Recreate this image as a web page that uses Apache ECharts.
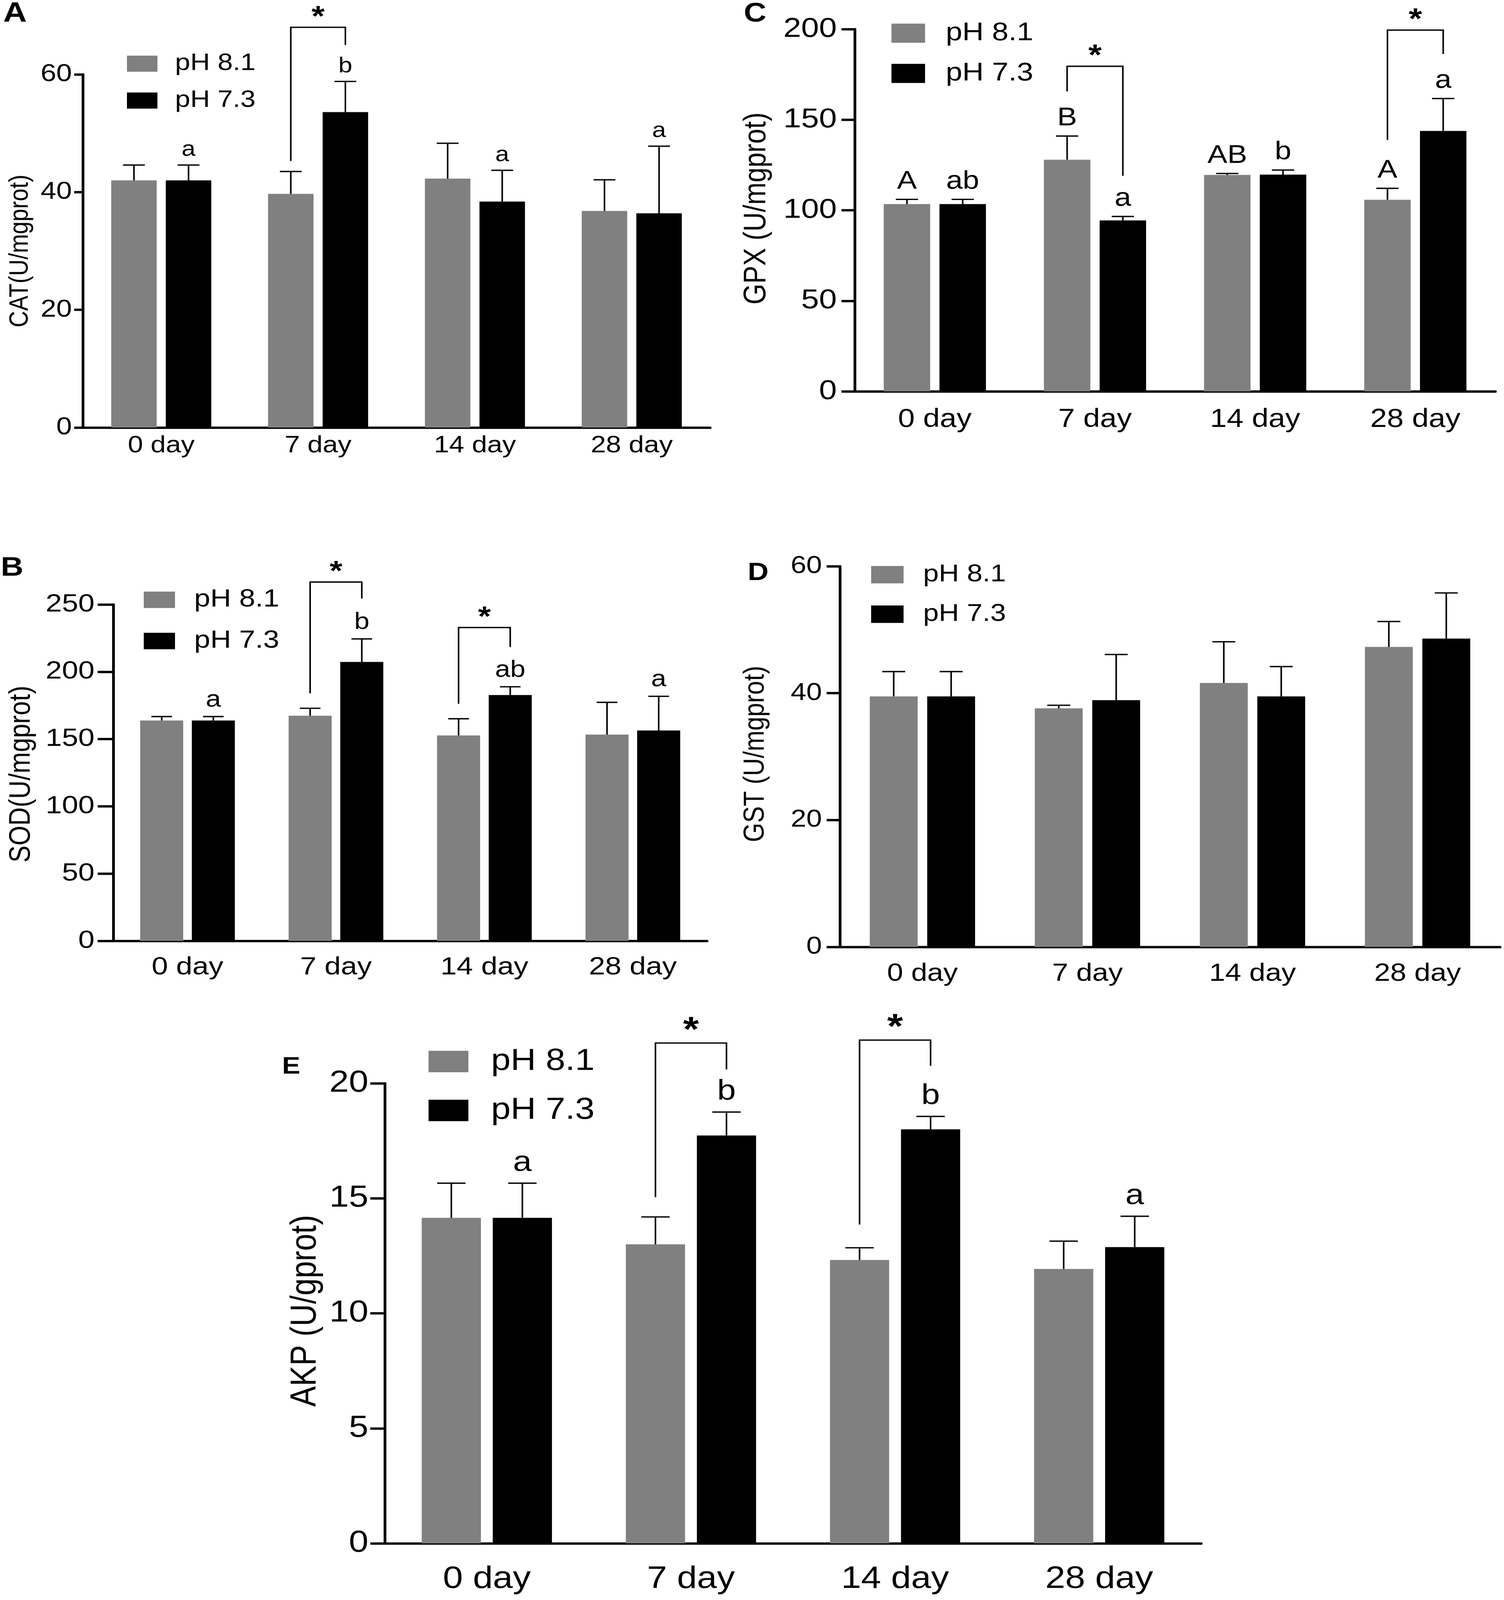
<!DOCTYPE html>
<html>
<head>
<meta charset="utf-8">
<script src="https://cdn.jsdelivr.net/npm/echarts@6/dist/echarts.min.js"></script>
<style>
html,body{margin:0;padding:0;background:#fff;overflow:hidden;}
#main{width:3850px;height:4775px;transform-origin:0 0;}
</style>
</head>
<body>
<div id="main"></div>
<script>
var days = ['0 day', '7 day', '14 day', '28 day'];
var groupNames = ['pH 8.1', 'pH 7.3'];

// A - CAT
var catHigh = [42.0, 39.7, 42.3, 36.8];
var catHighSd = [2.6, 3.8, 6.0, 5.3];
var catLow = [42.0, 53.6, 38.4, 36.4];
var catLowSd = [2.6, 5.2, 5.3, 11.4];
var catLowTags = ['a', 'b', 'a', 'a'];
var catStars = [[1, 45.3, 68, 65]];

// B - SOD
var sodHigh = [163.8, 167.3, 152.7, 153.3];
var sodHighSd = [2.9, 5.6, 12.4, 24.0];
var sodLow = [163.8, 207.3, 182.7, 156.4];
var sodLowSd = [2.9, 17.1, 6.2, 25.4];
var sodLowTags = ['a', 'b', 'ab', 'a'];
var sodStars = [[1, 184, 266.7, 254.4], [2, 176.2, 232.9, 218.4]];

// C - GPX
var gpxHigh = [103.4, 127.9, 119.5, 105.8];
var gpxHighSd = [2.6, 13.1, 0.8, 6.3];
var gpxHighTags = ['A', 'B', 'AB', 'A'];
var gpxLow = [103.4, 94.4, 119.7, 143.8];
var gpxLowSd = [2.6, 2.2, 2.5, 17.9];
var gpxLowTags = ['ab', 'a', 'b', 'a'];
var gpxStars = [[1, 165.6, 179.5, 119], [3, 138.8, 199.5, 186.3]];

// D - GST
var gstHigh = [39.5, 37.6, 41.6, 47.3];
var gstHighSd = [3.9, 0.5, 6.5, 4.0];
var gstLow = [39.5, 38.9, 39.5, 48.6];
var gstLowSd = [3.9, 7.2, 4.7, 7.2];

// E - AKP
var akpHigh = [14.15, 13.0, 12.32, 11.93];
var akpHighSd = [1.51, 1.19, 0.53, 1.21];
var akpLow = [14.15, 17.73, 18.0, 12.88];
var akpLowSd = [1.51, 1.02, 0.56, 1.34];
var akpLowTags = ['a', 'b', 'b', 'a'];
var akpStars = [[1, 15.05, 21.75, 20.6], [2, 13.86, 21.88, 20.76]];

var FONT = '"Liberation Sans", Arial, sans-serif';
var BAR_W = 0.29, BAR_GAP = 0.2, CAP = 0.48, AXW = 7;
var GRAY = '#808080', BLACK = '#000000';

// the figure is laid out at 3850x4775; squeeze it into the real viewport if that is smaller
var W = 3850, H = 4775;
var el = document.getElementById('main');
var vw = window.innerWidth || W, vh = window.innerHeight || H;
if (vw !== W || vh !== H) {
  el.style.transform = 'scale(' + (vw / W) + ',' + (vh / H) + ')';
}

var chart = echarts.init(el, null, {renderer: 'canvas'});

function barOffset(band) { return band * BAR_W * (1 + BAR_GAP) / 2; }

function sdSeries(gi, vals, sds, side, tags, fs) {
  return {
    type: 'custom', xAxisIndex: gi, yAxisIndex: gi, silent: true, z: 5, clip: false,
    data: vals.map(function (v, i) { return [i, v, sds[i]]; }),
    renderItem: function (params, api) {
      var band = api.size([1, 0])[0];
      var base = api.coord([api.value(0), api.value(1)]);
      var top = api.coord([api.value(0), api.value(1) + api.value(2)]);
      var x = base[0] + side * barOffset(band);
      var half = band * BAR_W * CAP / 2;
      var kids = [
        {type: 'line', shape: {x1: x, y1: base[1], x2: x, y2: top[1]}, style: {stroke: '#000', lineWidth: 4}},
        {type: 'line', shape: {x1: x - half, y1: top[1], x2: x + half, y2: top[1]}, style: {stroke: '#000', lineWidth: 4}}
      ];
      var t = tags ? tags[params.dataIndex] : null;
      if (t) {
        kids.push({type: 'text', x: x, y: top[1] - fs * 0.2,
          style: {text: t, fontSize: fs, fontFamily: FONT, fill: '#000', align: 'center', verticalAlign: 'bottom'}});
      }
      return {type: 'group', children: kids};
    }
  };
}

function starSeries(gi, list, fs) {
  return {
    type: 'custom', xAxisIndex: gi, yAxisIndex: gi, silent: true, z: 6, clip: false,
    data: list,
    renderItem: function (params, api) {
      var band = api.size([1, 0])[0];
      var dx = barOffset(band);
      var c = api.value(0);
      var p1 = api.coord([c, api.value(1)]);
      var p2 = api.coord([c, api.value(2)]);
      var p3 = api.coord([c, api.value(3)]);
      var xl = p1[0] - dx, xr = p1[0] + dx;
      return {type: 'group', children: [
        {type: 'polyline', shape: {points: [[xl, p1[1]], [xl, p2[1]], [xr, p2[1]], [xr, p3[1]]]},
          style: {stroke: '#000', lineWidth: 4, fill: null}},
        {type: 'text', x: p1[0], y: p2[1] - fs * 0.33,
          style: {text: '*', fontSize: fs, fontWeight: 'bold', fontFamily: FONT, fill: '#000', align: 'center', verticalAlign: 'middle'}}
      ]};
    }
  };
}

function barSeries(gi, name, vals, color) {
  return {
    type: 'bar', name: name, xAxisIndex: gi, yAxisIndex: gi, data: vals,
    barWidth: (BAR_W * 100) + '%', barGap: (BAR_GAP * 100) + '%',
    itemStyle: {color: color}, silent: true, z: 3
  };
}

function xAx(gi, fs, tick, margin) {
  return {
    type: 'category', gridIndex: gi, data: days,
    axisLine: {lineStyle: {color: '#000', width: AXW}},
    axisTick: {alignWithLabel: true, length: tick, lineStyle: {color: '#000', width: AXW}},
    axisLabel: {fontSize: fs, color: '#000', fontFamily: FONT, margin: margin}
  };
}

function yAx(gi, max, step, fs, tick, margin) {
  return {
    type: 'value', gridIndex: gi, min: 0, max: max, interval: step,
    splitLine: {show: false},
    axisLine: {show: true, lineStyle: {color: '#000', width: AXW}},
    axisTick: {show: true, length: tick, lineStyle: {color: '#000', width: AXW}},
    axisLabel: {fontSize: fs, color: '#000', fontFamily: FONT, margin: margin}
  };
}

function legendAt(left, top, w, h, gap, fs, textGap) {
  return {
    data: groupNames, orient: 'vertical', left: left, top: top, padding: 0,
    itemWidth: w, itemHeight: h, itemGap: gap, icon: 'rect', selectedMode: false,
    textStyle: {fontSize: fs, color: '#000', fontFamily: FONT, padding: [0, 0, 0, textGap - 5]}
  };
}

function sideText(x, y, text, fs) {
  return {type: 'text', x: x, y: y, rotation: Math.PI / 2,
    style: {text: text, fontSize: fs, fontFamily: FONT, fill: '#000', align: 'center', verticalAlign: 'middle'}};
}

function letter(x, y, text, fs) {
  return {type: 'text', x: x, y: y,
    style: {text: text, fontSize: fs, fontWeight: 'bold', fontFamily: FONT, fill: '#000', align: 'left', verticalAlign: 'top'}};
}

var option = {
  animation: false,
  backgroundColor: '#fff',
  grid: [
    {left: 212, top: 222, width: 1606, height: 1054, outerBoundsMode: 'none'},
    {left: 290, top: 1804, width: 1520, height: 1004, outerBoundsMode: 'none'},
    {left: 2188, top: 87, width: 1640, height: 1081, outerBoundsMode: 'none'},
    {left: 2150, top: 1690, width: 1690, height: 1136, outerBoundsMode: 'none'},
    {left: 985, top: 3233, width: 2090, height: 1373, outerBoundsMode: 'none'}
  ],
  xAxis: [
    xAx(0, 70, 30, 20),
    xAx(1, 75, 32, 42),
    xAx(2, 77, 30, 46),
    xAx(3, 74, 30, 44),
    xAx(4, 92, 40, 62)
  ],
  yAxis: [
    yAx(0, 60, 20, 72, 22, 28),
    yAx(1, 250, 50, 75, 40, 48),
    yAx(2, 200, 50, 82, 34, 46),
    yAx(3, 60, 20, 72, 34, 46),
    yAx(4, 20, 5, 90, 37, 42)
  ],
  legend: [
    legendAt(325, 155, 78, 48, 40, 70, 45),
    legendAt(368, 1753, 80, 49, 49, 74, 49),
    legendAt(2282, 61, 86, 57, 44, 76, 53),
    legendAt(2230, 1679, 83, 52, 46, 72, 50),
    legendAt(1097, 3123, 102, 64, 56, 90, 58)
  ],
  graphic: [
    letter(8, 0, 'A', 84),
    letter(2, 1656, 'B', 80),
    letter(1904, 2, 'C', 80),
    letter(1914, 1674, 'D', 74),
    letter(722, 3150, 'E', 70),
    sideText(52, 749, 'CAT(U/mgprot)', 68),
    sideText(55, 2310, 'SOD(U/mgprot)', 76),
    sideText(1937, 622, 'GPX (U/mgprot)', 80),
    sideText(1935, 2250, 'GST (U/mgprot)', 74),
    sideText(783, 3912, 'AKP (U/gprot)', 92)
  ],
  series: [
    barSeries(0, groupNames[0], catHigh, GRAY),
    barSeries(0, groupNames[1], catLow, BLACK),
    sdSeries(0, catHigh, catHighSd, -1, null, 64),
    sdSeries(0, catLow, catLowSd, 1, catLowTags, 64),
    starSeries(0, catStars, 86),

    barSeries(1, groupNames[0], sodHigh, GRAY),
    barSeries(1, groupNames[1], sodLow, BLACK),
    sdSeries(1, sodHigh, sodHighSd, -1, null, 70),
    sdSeries(1, sodLow, sodLowSd, 1, sodLowTags, 70),
    starSeries(1, sodStars, 84),

    barSeries(2, groupNames[0], gpxHigh, GRAY),
    barSeries(2, groupNames[1], gpxLow, BLACK),
    sdSeries(2, gpxHigh, gpxHighSd, -1, gpxHighTags, 76),
    sdSeries(2, gpxLow, gpxLowSd, 1, gpxLowTags, 76),
    starSeries(2, gpxStars, 88),

    barSeries(3, groupNames[0], gstHigh, GRAY),
    barSeries(3, groupNames[1], gstLow, BLACK),
    sdSeries(3, gstHigh, gstHighSd, -1, null, 76),
    sdSeries(3, gstLow, gstLowSd, 1, null, 76),

    barSeries(4, groupNames[0], akpHigh, GRAY),
    barSeries(4, groupNames[1], akpLow, BLACK),
    sdSeries(4, akpHigh, akpHighSd, -1, null, 86),
    sdSeries(4, akpLow, akpLowSd, 1, akpLowTags, 86),
    starSeries(4, akpStars, 104)
  ]
};

chart.setOption(option);
</script>
</body>
</html>
